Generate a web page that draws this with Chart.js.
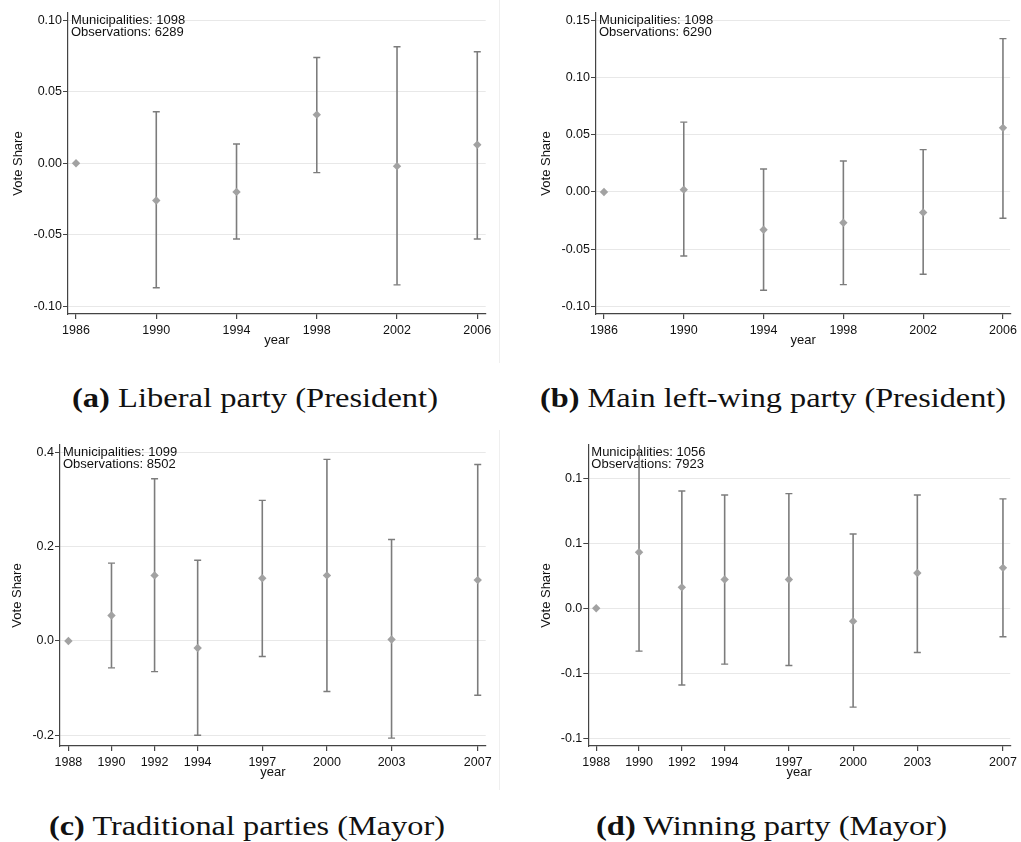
<!DOCTYPE html>
<html>
<head>
<meta charset="utf-8">
<script src="https://cdn.jsdelivr.net/npm/chart.js@4.4.1/dist/chart.umd.min.js"></script>
<style>
  body { margin:0; background:#fff; width:1021px; height:842px; position:relative; overflow:hidden; font-family:"Liberation Sans", Arial, sans-serif; }
  .panel { position:absolute; }
  .cap { position:absolute; font-family:"Liberation Serif", "Times New Roman", serif; font-size:27px; color:#111; white-space:nowrap; transform-origin:0 0; line-height:27px; }
  .cap b { font-weight:bold; }
  .sep { position:absolute; width:1px; background:#efefef; }
</style>
</head>
<body>
<div class="sep" style="left:499px;top:0;height:363px"></div>
<div class="sep" style="left:499px;top:430px;height:360px"></div>

<div class="panel" style="left:0;top:0;width:498px;height:355px"><canvas id="cA"></canvas></div>
<div class="panel" style="left:510px;top:0;width:511px;height:355px"><canvas id="cB"></canvas></div>
<div class="panel" style="left:0;top:430px;width:498px;height:360px"><canvas id="cC"></canvas></div>
<div class="panel" style="left:510px;top:430px;width:511px;height:360px"><canvas id="cD"></canvas></div>

<div class="cap" id="capA" data-w="366"><b>(a)</b> Liberal party (President)</div>
<div class="cap" id="capB" data-w="466"><b>(b)</b> Main left-wing party (President)</div>
<div class="cap" id="capC" data-w="396"><b>(c)</b> Traditional parties (Mayor)</div>
<div class="cap" id="capD" data-w="351"><b>(d)</b> Winning party (Mayor)</div>

<script>
// --- data (coef + 95% CI), base year has no interval ---
const presYears = [1986, 1990, 1994, 1998, 2002, 2006];
const mayorYears = [1988, 1990, 1992, 1994, 1997, 2000, 2003, 2007];

const libCoef = [0, -0.026, -0.020, 0.034, -0.002, 0.013];
const libLo   = [null, -0.087, -0.053, -0.0065, -0.085, -0.053];
const libHi   = [null, 0.036, 0.0135, 0.074, 0.0815, 0.078];

const leftCoef = [0, 0.002, -0.033, -0.027, -0.018, 0.056];
const leftLo   = [null, -0.056, -0.086, -0.081, -0.072, -0.023];
const leftHi   = [null, 0.061, 0.020, 0.027, 0.037, 0.134];

const tradCoef = [0, 0.054, 0.139, -0.015, 0.133, 0.139, 0.003, 0.129];
const tradLo   = [null, -0.057, -0.065, -0.200, -0.033, -0.107, -0.206, -0.115];
const tradHi   = [null, 0.165, 0.344, 0.171, 0.298, 0.385, 0.215, 0.374];

const winCoef = [0, 0.043, 0.016, 0.022, 0.022, -0.010, 0.027, 0.031];
const winLo   = [null, -0.033, -0.059, -0.043, -0.044, -0.076, -0.034, -0.022];
const winHi   = [null, 0.135, 0.090, 0.087, 0.088, 0.057, 0.087, 0.084];

const presTicks = [-0.10, -0.05, 0, 0.05, 0.10];
const presTickLabels = ['-0.10', '-0.05', '0.00', '0.05', '0.10'];
const leftTicks = [-0.10, -0.05, 0, 0.05, 0.10, 0.15];
const leftTickLabels = ['-0.10', '-0.05', '0.00', '0.05', '0.10', '0.15'];
const tradTicks = [-0.2, 0, 0.2, 0.4];
const tradTickLabels = ['-0.2', '0.0', '0.2', '0.4'];
const winTicks = [-0.10, -0.05, 0, 0.05, 0.10];
const winTickLabels = ['-0.1', '-0.1', '0.0', '0.1', '0.1'];   // stata's %3.1f rounding

const notes = {
  A: ['Municipalities: 1098', 'Observations: 6289'],
  B: ['Municipalities: 1098', 'Observations: 6290'],
  C: ['Municipalities: 1099', 'Observations: 8502'],
  D: ['Municipalities: 1056', 'Observations: 7923']
};

const AXIS = '#444', BAR = '#7c7c7c', DOT = '#a2a2a2', GRID = '#e8e8e8', TXT = '#111';
Chart.defaults.font.family = '"Liberation Sans", Arial, sans-serif';
Chart.defaults.font.size = 12.5;
Chart.defaults.color = TXT;

const notePlugin = {
  id: 'note',
  beforeDatasetsDraw(chart, args, opts) {
    const {ctx, chartArea} = chart;
    ctx.save();
    ctx.fillStyle = TXT;
    ctx.font = '13px "Liberation Sans", Arial, sans-serif';
    ctx.textBaseline = 'alphabetic';
    (opts.lines || []).forEach((t, i) => ctx.fillText(t, chartArea.left + 3, chartArea.top + 11 + i * 12));
    ctx.restore();
  }
};

// box = canvas box on page, area = wanted plot area (page px)
function makePanel(id, box, area, years, coef, lo, hi, ticks, tickLabels, xr, yr, yTitleX, lines) {
  const el = document.getElementById(id);
  const bars = [], caps = [];
  years.forEach((y, i) => {
    if (lo[i] == null) return;
    bars.push({x: y, y: lo[i]}, {x: y, y: hi[i]}, {x: y, y: null});
    caps.push({x: y, y: lo[i]}, {x: y, y: hi[i]});
  });
  const pts = years.map((y, i) => ({x: y, y: coef[i]}));
  const titleFont = { size: 13 };

  return new Chart(el, {
    type: 'scatter',
    data: { datasets: [
      { data: pts, pointStyle: 'rectRot', pointRadius: 4.2, backgroundColor: DOT, borderColor: DOT, borderWidth: 0, order: 0 },
      { data: bars, showLine: true, spanGaps: false, pointRadius: 0, borderColor: BAR, borderWidth: 1.6, order: 1 },
      { data: caps, pointStyle: 'line', pointRadius: 3.5, borderColor: BAR, borderWidth: 1.4, order: 2 }
    ]},
    options: {
      responsive: true, maintainAspectRatio: false, animation: false, events: [],
      layout: { padding: { left: 0, top: area.T - box.top, right: box.left + box.w - area.R, bottom: 0 } },
      plugins: { legend: { display: false }, tooltip: { enabled: false }, note: { lines } },
      scales: {
        x: {
          type: 'linear', min: xr[0], max: xr[1],
          afterBuildTicks: s => { s.ticks = years.map(v => ({value: v})); },
          afterFit: s => { s.height = box.top + box.h - area.B; },
          ticks: { callback: v => String(v), padding: 4, maxRotation: 0, autoSkip: false, color: TXT },
          grid: { drawOnChartArea: false, tickLength: 5, tickColor: AXIS, lineWidth: 1.2 },
          border: { color: AXIS, width: 1.2 },
          title: { display: true, text: 'year', color: TXT, font: titleFont, padding: { top: 0, bottom: (box.top + box.h) - (area.B + 26) - 7.8 } }
        },
        y: {
          min: yr[0], max: yr[1],
          afterBuildTicks: s => { s.ticks = ticks.map(v => ({value: v})); },
          afterFit: s => { s.width = area.L - box.left; },
          ticks: { callback: (v, i) => tickLabels[i], padding: 1, color: TXT },
          grid: { color: GRID, lineWidth: 1, tickLength: 5, tickColor: AXIS },
          border: { color: AXIS, width: 1.2 },
          title: { display: true, text: 'Vote Share', color: TXT, font: titleFont, padding: { top: yTitleX - box.left - 7.8, bottom: 0 } }
        }
      }
    },
    plugins: [notePlugin]
  });
}

makePanel('cA', {left: 0, top: 0, w: 498, h: 355}, {L: 68, R: 485.7, T: 13, B: 314},
  presYears, libCoef, libLo, libHi, presTicks, presTickLabels, [1985.6, 2006.42], [-0.1054, 0.1051], 18.3, notes.A);
makePanel('cB', {left: 510, top: 0, w: 511, h: 355}, {L: 596, R: 1013, T: 13, B: 314},
  presYears, leftCoef, leftLo, leftHi, leftTicks, leftTickLabels, [1985.6, 2006.36], [-0.1067, 0.1564], 546, notes.B);
makePanel('cC', {left: 0, top: 430, w: 498, h: 360}, {L: 60, R: 485.7, T: 445, B: 746},
  mayorYears, tradCoef, tradLo, tradHi, tradTicks, tradTickLabels, [1987.61, 2007.37], [-0.2227, 0.4155], 17.7, notes.C);
makePanel('cD', {left: 510, top: 430, w: 511, h: 360}, {L: 588.3, R: 1013, T: 445, B: 746},
  mayorYears, winCoef, winLo, winHi, winTicks, winTickLabels, [1987.63, 2007.34], [-0.1059, 0.1254], 546, notes.D);

// captions: place by left edge + baseline, stretch to the width of the LaTeX caption
const capPos = { capA: [71.7, 407.7], capB: [540, 407.7], capC: [49, 836], capD: [596, 836] };
Object.keys(capPos).forEach(k => {
  const el = document.getElementById(k);
  const [x, base] = capPos[k];
  el.style.left = x + 'px';
  el.style.top = (base - 22.6) + 'px';
  const w = el.getBoundingClientRect().width;
  el.style.transform = 'scaleX(' + (el.dataset.w / w) + ')';
});
</script>
</body>
</html>
